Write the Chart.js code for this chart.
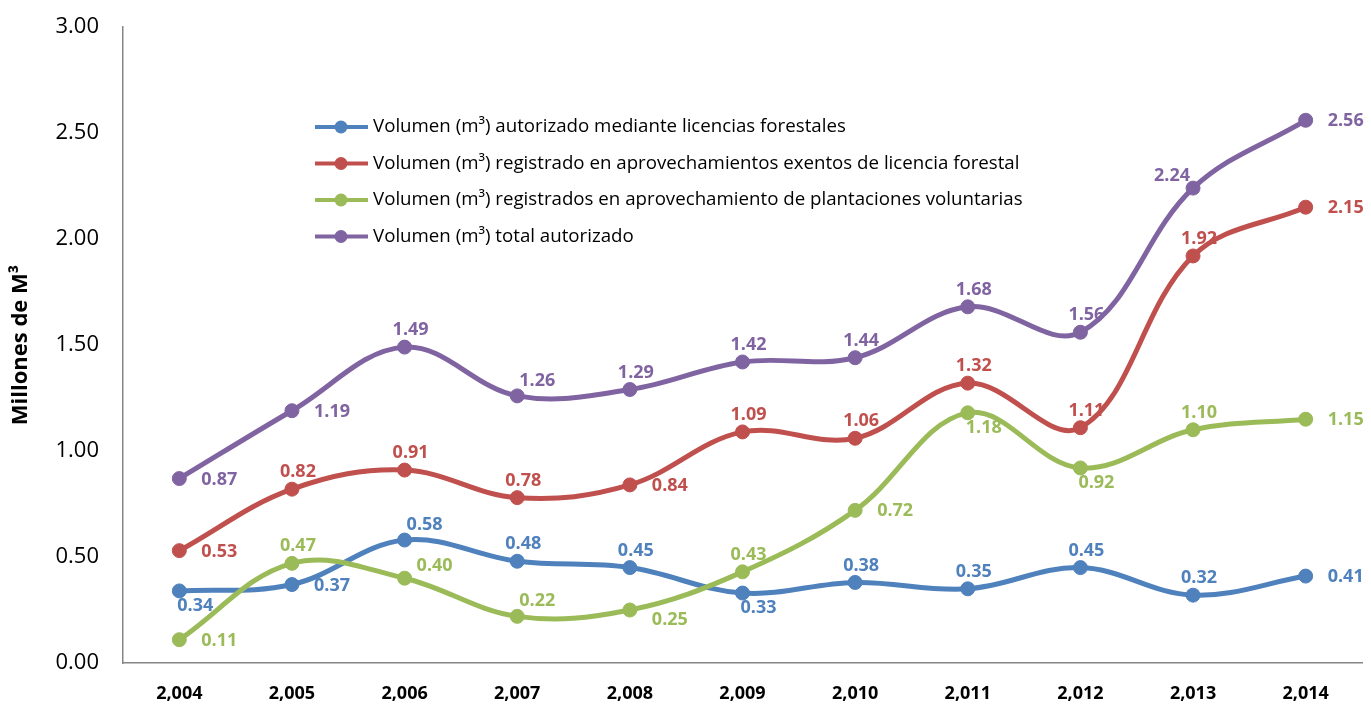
<!DOCTYPE html>
<html>
<head>
<meta charset="utf-8">
<script src="https://cdn.jsdelivr.net/npm/chart.js@4.4.1/dist/chart.umd.min.js"></script>
<style>
  html, body { margin: 0; padding: 0; background: #fff; }
  #wrap { width: 1371px; height: 711px; }
</style>
</head>
<body>
<div id="wrap"><canvas id="grafico"></canvas></div>
<script>
const years = ["2,004", "2,005", "2,006", "2,007", "2,008", "2,009", "2,010", "2,011", "2,012", "2,013", "2,014"];

const seriesNames = [
  "Volumen (m³) autorizado mediante licencias forestales",
  "Volumen (m³) registrado en aprovechamientos exentos de licencia forestal",
  "Volumen (m³) registrados en aprovechamiento de plantaciones voluntarias",
  "Volumen (m³) total autorizado"
];

const licencias = [0.34, 0.37, 0.58, 0.48, 0.45, 0.33, 0.38, 0.35, 0.45, 0.32, 0.41];
const exentos = [0.53, 0.82, 0.91, 0.78, 0.84, 1.09, 1.06, 1.32, 1.11, 1.92, 2.15];
const plantaciones = [0.11, 0.47, 0.40, 0.22, 0.25, 0.43, 0.72, 1.18, 0.92, 1.10, 1.15];
const total = [0.87, 1.19, 1.49, 1.26, 1.29, 1.42, 1.44, 1.68, 1.56, 2.24, 2.56];

const yTicks = [0, 0.5, 1, 1.5, 2, 2.5, 3];

// where each value label sits next to its point
const lblLicencias = ["b", "r", "ar", "a", "a", "b", "a", "a", "a", "a", "r"];
const lblExentos = ["r", "a", "a", "a", "r", "a", "a", "a", "a", "a", "r"];
const lblPlantaciones = ["r", "a", "rt", "ar", "rb", "a", "r", "b", "b", "a", "r"];
const lblTotal = ["r", "r", "a", "ar", "a", "a", "a", "a", "a", "al", "r"];

const colores = ["#4F81BD", "#C0504D", "#9BBB59", "#8064A2"];
const FONT = "'Open Sans', 'Liberation Sans', sans-serif";

const offsets = {
  a: { dx: 6, dy: -17, align: "center" },
  ar: { dx: 20, dy: -15, align: "center" },
  al: { dx: -21, dy: -12, align: "center" },
  b: { dx: 16, dy: 15, align: "center" },
  r: { dx: 22, dy: 1, align: "left" },
  rt: { dx: 12, dy: -12, align: "left" },
  rb: { dx: 22, dy: 10, align: "left" }
};

const etiquetas = {
  id: "etiquetas",
  afterDatasetsDraw(chart) {
    const ctx = chart.ctx;
    ctx.save();
    ctx.font = "bold 18px " + FONT;
    ctx.textBaseline = "middle";
    chart.data.datasets.forEach((ds, i) => {
      const meta = chart.getDatasetMeta(i);
      ctx.fillStyle = ds.borderColor;
      meta.data.forEach((pt, j) => {
        const o = offsets[ds.lblPos[j]];
        ctx.textAlign = o.align;
        ctx.fillText(ds.data[j].toFixed(2), pt.x + o.dx, pt.y + o.dy);
      });
    });
    ctx.restore();
  }
};

const leyenda = {
  id: "leyenda",
  afterDraw(chart) {
    const ctx = chart.ctx;
    const area = chart.chartArea;
    const x0 = area.left + 192;
    const y0 = area.top + 100;
    ctx.save();
    ctx.font = "18.7px " + FONT;
    ctx.textBaseline = "middle";
    ctx.textAlign = "left";
    chart.data.datasets.forEach((ds, i) => {
      const y = y0 + i * 36.5;
      ctx.strokeStyle = ds.borderColor;
      ctx.lineWidth = 4;
      ctx.beginPath();
      ctx.moveTo(x0, y);
      ctx.lineTo(x0 + 53, y);
      ctx.stroke();
      ctx.fillStyle = ds.borderColor;
      ctx.beginPath();
      ctx.arc(x0 + 26, y, 6.5, 0, Math.PI * 2);
      ctx.fill();
      ctx.fillStyle = "#000";
      ctx.fillText(ds.label, x0 + 58, y);
    });
    ctx.restore();
  }
};

function serie(i, data, pos) {
  return {
    label: seriesNames[i],
    data: data,
    lblPos: pos,
    borderColor: colores[i],
    backgroundColor: colores[i],
    pointBackgroundColor: colores[i],
    pointBorderColor: colores[i],
    borderWidth: 5,
    pointRadius: 7,
    pointBorderWidth: 1,
    tension: 0.37,
    order: 4 - i
  };
}

let ctx1 = document.getElementById("grafico").getContext("2d");

new Chart(ctx1, {
  type: "line",
  data: {
    labels: years,
    datasets: [
      serie(0, licencias, lblLicencias),
      serie(1, exentos, lblExentos),
      serie(2, plantaciones, lblPlantaciones),
      serie(3, total, lblTotal)
    ]
  },
  options: {
    responsive: true,
    maintainAspectRatio: false,
    animation: false,
    layout: { padding: { top: 27, right: 9, left: 0, bottom: 0 } },
    plugins: {
      legend: { display: false },
      tooltip: { enabled: false }
    },
    scales: {
      x: {
        offset: true,
        grid: { display: false, drawTicks: false },
        border: { display: true, color: "#868686", width: 1.5 },
        ticks: {
          color: "#000",
          font: { family: FONT, size: 18, weight: "bold" },
          padding: 20,
          maxRotation: 0
        },
        afterFit(scale) { scale.height = 48; }
      },
      y: {
        min: 0,
        max: 3,
        grid: { display: false, drawTicks: false },
        border: { display: true, color: "#868686", width: 1.5 },
        afterBuildTicks(scale) { scale.ticks = yTicks.map(v => ({ value: v })); },
        ticks: {
          color: "#000",
          font: { family: FONT, size: 22 },
          padding: 24,
          callback: v => v.toFixed(2)
        },
        title: {
          display: true,
          text: "Millones de M³",
          color: "#000",
          font: { family: FONT, size: 22, weight: "bold" },
          padding: { top: 8, bottom: 0 }
        },
        afterFit(scale) {
          scale.width = 123;
          scale.paddingTop = 0;
          scale.paddingBottom = 0;
        }
      }
    }
  },
  plugins: [etiquetas, leyenda]
});
</script>
</body>
</html>
